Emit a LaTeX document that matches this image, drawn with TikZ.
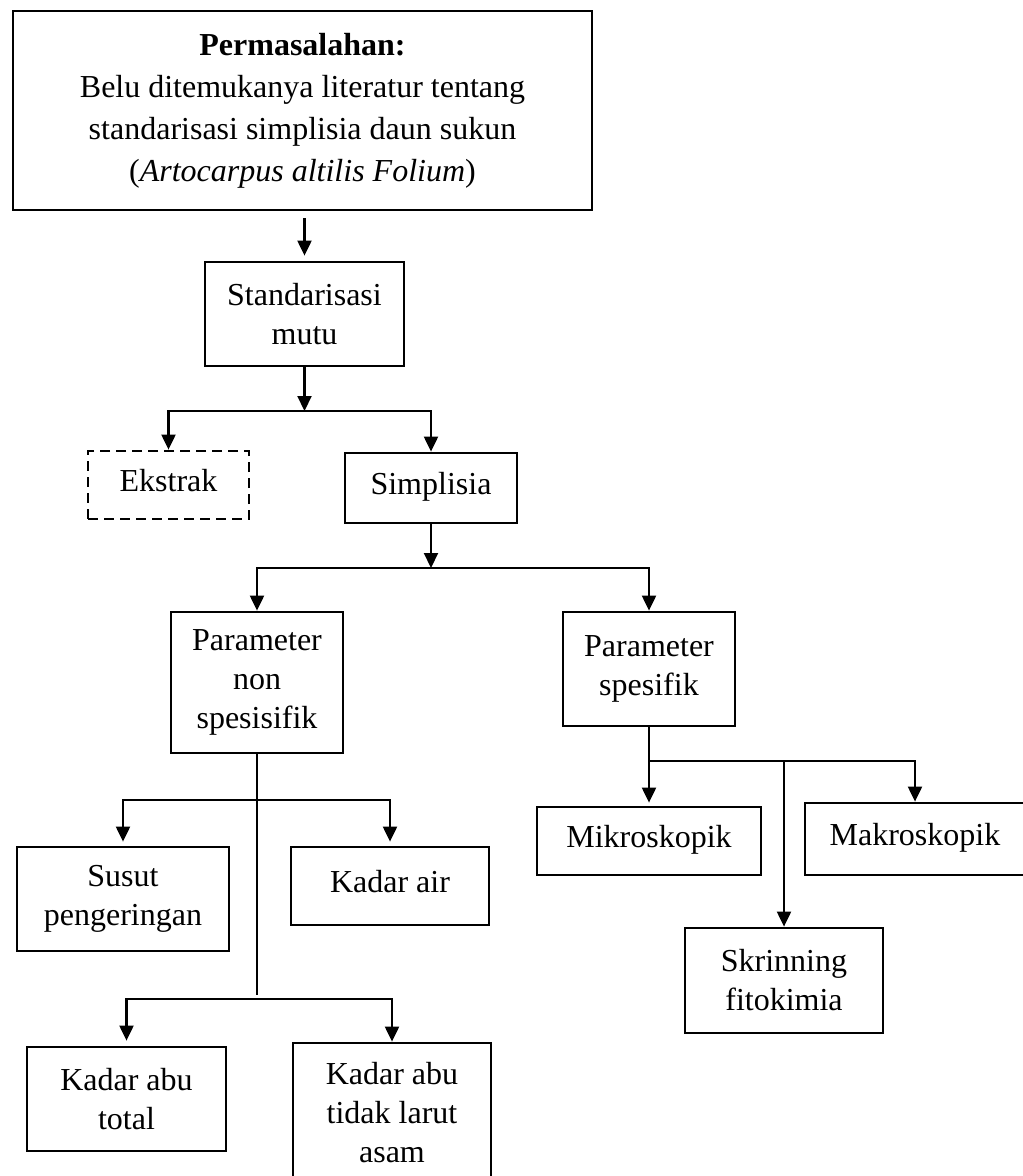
\documentclass[tikz,border=0pt]{standalone}
\usepackage{fontspec}
\setmainfont{Liberation Serif}
\usetikzlibrary{arrows.meta}

\begin{document}
\begin{tikzpicture}
      [x = 1pt, y = -1pt,
      box/.style= {
         draw,
         line width = 2.8pt,
         align = center,
         inner sep = 0pt,
         font = \fontsize{32}{39}\selectfont
      },
      single/.style= {
         text height = 22pt,
         text depth = 10pt
      },
      flow/.style={-{Triangle[length = 15pt, width = 14pt]}, line width = 2.1pt},
      link/.style={line width = 2.1pt}]
      \useasboundingbox (0, 0) rectangle (1023, 1176);

      \draw (302.5, 110.5) node[box, minimum width = 579pt, minimum height = 199pt,
         font = \fontsize{32}{42}\selectfont] (masalah)
         {\textbf{Permasalahan:}\\Belu ditemukanya literatur tentang\\standarisasi simplisia daun sukun\\(\textit{Artocarpus altilis Folium})};
      \draw (304.5, 314) node[box, minimum width = 199pt, minimum height = 104pt] (mutu) {Standarisasi\\mutu};

      \draw (168.5, 485) node[box, single, dash pattern = on 10pt off 6pt,
         minimum width = 161pt, minimum height = 68pt] (ekstrak) {Ekstrak};
      \draw (431, 488) node[box, single, minimum width = 172pt, minimum height = 70pt] (simplisia) {Simplisia};

      \draw (257, 682.5) node[box, minimum width = 172pt, minimum height = 141pt] (nonspes) {Parameter\\non\\spesisifik};
      \draw (649, 669) node[box, minimum width = 172pt, minimum height = 114pt] (spes) {Parameter\\spesifik};

      \draw (123, 899) node[box, minimum width = 212pt, minimum height = 104pt] (susut) {Susut\\pengeringan};
      \draw (390, 886) node[box, single, minimum width = 198pt, minimum height = 78pt] (kair) {Kadar air};
      \draw (126.5, 1099) node[box, minimum width = 199pt, minimum height = 104pt] (total) {Kadar abu\\total};
      \draw (392, 1112.5) node[box, minimum width = 198pt, minimum height = 139pt] (tidak) {Kadar abu\\tidak larut\\asam};

      \draw (649, 841) node[box, single, minimum width = 224pt, minimum height = 68pt] (mikro) {Mikroskopik};
      \draw (915, 839) node[box, single, minimum width = 220pt, minimum height = 72pt] (makro) {Makroskopik};
      \draw (784, 980.5) node[box, minimum width = 198pt, minimum height = 105pt] (skrin) {Skrinning\\fitokimia};

      \coordinate (j1) at (304.5, 411);
      \coordinate (j2) at (431, 568);
      \coordinate (j3) at (257, 800);
      \coordinate (j4) at (257, 999);
      \coordinate (ujung) at (257, 995);
      \coordinate (j5) at (649, 761);

      \draw[flow, shorten <= 7pt, shorten >= 5pt] (masalah.south -| mutu.north) -- (mutu.north);
      \draw[flow] (mutu.south) -- (j1);
      \draw[flow] (j1) -| (ekstrak.north);
      \draw[flow] (j1) -| (simplisia.north);

      \draw[flow] (simplisia.south) -- (j2);
      \draw[flow] (j2) -| (nonspes.north);
      \draw[flow] (j2) -| (spes.north);

      \draw[link] (nonspes.south) -- (ujung);
      \draw[flow, shorten >= 4pt] (j3) -| (susut.north);
      \draw[flow, shorten >= 4pt] (j3) -| (kair.north);
      \draw[flow, shorten >= 5pt] (j4) -| (total.north);
      \draw[flow] (j4) -| (tidak.north);

      \draw[link] (spes.south) -- (j5);
      \draw[flow, shorten >= 3pt] (j5) -- (mikro.north);
      \draw[flow] (j5) -| (makro.north);
      \draw[flow] (j5 -| skrin.north) -- (skrin.north);
\end{tikzpicture}
\end{document}
